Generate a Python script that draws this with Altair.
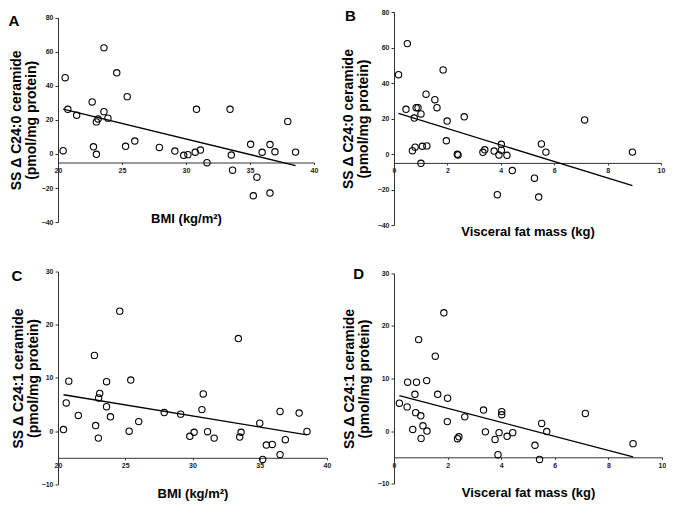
import altair as alt
import pandas as pd

# ---------------- data ----------------
# Panel A: BMI vs SS delta C24:0 ceramide
bmi_a = [20.4, 20.56, 20.77, 21.46, 22.67, 22.77, 23.0, 23.0, 23.13, 23.59, 23.59, 23.9,
         24.59, 25.28, 25.41, 26.0, 27.92, 29.13, 29.82, 30.15, 30.72, 30.82, 31.13, 31.64,
         33.44, 33.54, 33.64, 35.05, 35.54, 35.26, 35.95, 36.56, 36.56, 36.95, 37.95, 38.56]
c240_a = [1.9, 44.7, 26.2, 22.7, 30.5, 4.2, -0.2, 18.8, 20.5, 62.2, 24.8, 21.0,
          47.6, 4.5, 33.6, 7.6, 3.8, 1.7, -0.8, -0.4, 1.0, 26.2, 2.3, -5.1,
          26.2, -0.6, -9.5, 5.7, -13.6, -24.5, 1.0, 5.5, -22.9, 1.3, 19.1, 1.1]

# Panel B: visceral fat mass vs SS delta C24:0 ceramide
vfm_b = [0.17, 0.50, 0.45, 0.69, 0.79, 0.76, 0.83, 0.90, 1.01, 1.01, 1.06, 1.23,
         1.20, 1.53, 1.61, 1.84, 1.96, 1.99, 2.37, 2.40, 2.63, 3.33, 3.40, 3.75,
         3.87, 3.93, 4.02, 4.02, 4.23, 4.43, 5.26, 5.42, 5.52, 5.69, 7.14, 8.93]
c240_b = [44.7, 62.2, 25.2, 1.9, 3.9, 20.3, 26.1, 26.1, 22.6, -5.2, 4.4, 4.6,
          33.7, 30.6, 26.1, 47.4, 7.5, 18.6, -0.1, -0.5, 21.0, 1.0, 2.4, 1.7,
          -22.9, -0.5, 5.5, 2.2, -0.7, -9.3, -13.6, -24.2, 5.7, 1.1, 19.2, 1.1]

# Panel C: BMI vs SS delta C24:1 ceramide
bmi_c = [20.41, 20.61, 20.8, 21.51, 22.71, 22.8, 23.0, 23.1, 23.02, 23.61, 23.61, 23.9,
         24.59, 25.29, 25.41, 26.0, 27.9, 29.12, 29.8, 30.12, 30.7, 30.8, 31.12, 31.61,
         33.41, 33.51, 33.61, 35.0, 35.22, 35.49, 35.93, 36.51, 36.51, 36.9, 37.93, 38.51]
c241_c = [0.3, 5.3, 9.4, 2.95, 14.24, 1.05, -1.3, 7.1, 6.24, 9.3, 4.6, 2.7,
          22.55, 0.0, 9.6, 1.8, 3.5, 3.2, -0.96, -0.2, 4.05, 7.0, -0.1, -1.3,
          17.4, -1.1, -0.2, 1.5, -5.3, -2.6, -2.5, 3.7, -4.4, -1.6, 3.4, -0.05]

# Panel D: visceral fat mass vs SS delta C24:1 ceramide
vfm_d = [0.2, 0.49, 0.51, 0.70, 0.78, 0.81, 0.84, 0.92, 1.0, 1.01, 1.08, 1.22,
         1.23, 1.54, 1.63, 1.86, 1.99, 2.0, 2.37, 2.42, 2.64, 3.34, 3.41, 3.77,
         3.88, 3.92, 4.02, 4.02, 4.22, 4.43, 5.26, 5.43, 5.51, 5.7, 7.14, 8.92]
c241_d = [5.3, 4.6, 9.3, 0.3, 7.0, 3.5, 9.3, 17.4, 2.9, -1.4, 1.0, 9.6,
          0.0, 14.25, 7.0, 22.5, 1.8, 6.25, -1.45, -1.1, 2.7, 4.0, -0.15, -1.6,
          -4.5, -0.3, 3.7, 3.1, -1.0, -0.3, -2.7, -5.4, 1.45, -0.1, 3.35, -2.4]

bmi_ticks = [20, 25, 30, 35, 40]
vfm_ticks = [0, 2, 4, 6, 8, 10]
c240_ticks = [-40, -20, 0, 20, 40, 60, 80]
c241_ticks = [-10, 0, 10, 20, 30]

title_bmi = "BMI (kg/m²)"
title_vfm = "Visceral fat mass (kg)"
title_c240 = ["SS Δ C24:0 ceramide", "(pmol/mg protein)"]
title_c241 = ["SS Δ C24:1 ceramide", "(pmol/mg protein)"]
letters = ["A", "B", "C", "D"]

FONT = "Liberation Sans"


def panel(xv, yv, xticks, yticks, xtitle, ytitle, w, h, top, x_off, x_tp, y_tp,
          letter, lx, ly):
    df = pd.DataFrame({"x": xv, "y": yv})
    xdom = [xticks[0], xticks[-1]]
    ydom = [yticks[0], yticks[-1]]
    xaxis = alt.Axis(values=xticks, title=xtitle, offset=x_off, titlePadding=x_tp,
                     grid=False, tickSize=2, labelPadding=2, labelFlush=False,
                     labelOverlap=False, format="d", titleFontSize=13)
    yaxis = alt.Axis(values=yticks, title=ytitle, titlePadding=y_tp, grid=False,
                     tickSize=3, labelPadding=2, labelFlush=False, labelOverlap=False,
                     format="d", titleFontSize=14, titleLineHeight=15)
    x_enc = alt.X("x:Q", scale=alt.Scale(domain=xdom, nice=False, zero=False), axis=xaxis)
    y_enc = alt.Y("y:Q", scale=alt.Scale(domain=ydom, nice=False, zero=False,
                                         range=[top + h, top]), axis=yaxis)
    base = alt.Chart(df)
    pts = base.mark_point(shape="circle", filled=False, color="black", size=40,
                          strokeWidth=1.1, opacity=1).encode(x=x_enc, y=y_enc)
    line = base.transform_regression("x", "y").mark_line(
        color="black", strokeWidth=1.3).encode(x=x_enc, y=y_enc)
    lab = alt.Chart(pd.DataFrame({"t": [letter]})).mark_text(
        font=FONT, fontSize=15, fontWeight="bold", align="left", baseline="alphabetic",
        color="black").encode(text="t:N", x=alt.value(lx), y=alt.value(ly))
    return alt.layer(pts, line, lab).properties(width=w, height=top + h)


A = panel(bmi_a, c240_a, bmi_ticks, c240_ticks, title_bmi, title_c240,
          256, 204.7, 5.5, -59.7, 39.3, 2.6, letters[0], -49.5, 14.2)
B = panel(vfm_b, c240_b, vfm_ticks, c240_ticks, title_vfm, title_c240,
          267, 213.1, 0, -62.2, 51.5, 6.8, letters[1], -48.9, 8.7)
C = panel(bmi_c, c241_c, bmi_ticks, c241_ticks, title_bmi, title_c241,
          269, 212.9, 0, -26.6, 18.5, 1.0, letters[2], -46.5, 9.4)
D = panel(vfm_d, c241_d, vfm_ticks, c241_ticks, title_vfm, title_c241,
          268, 210.2, 1.9, -26.3, 18.5, 5.9, letters[3], -40.8, 7.7)

chart = alt.concat(A, B, C, D, columns=2, bounds="flush",
                   spacing=alt.RowColnumber(row=45.5, column=67)).properties(
    padding=0
).configure_view(stroke=None).configure_axis(
    domainColor="#333", tickColor="#333", domainWidth=1, tickWidth=1,
    labelFont=FONT, labelFontWeight="bold", labelFontSize=7, labelColor="#222",
    titleFont=FONT, titleFontWeight="bold", titleColor="black",
)

chart.save("out.html", embed_options={"renderer": "svg", "actions": False})
